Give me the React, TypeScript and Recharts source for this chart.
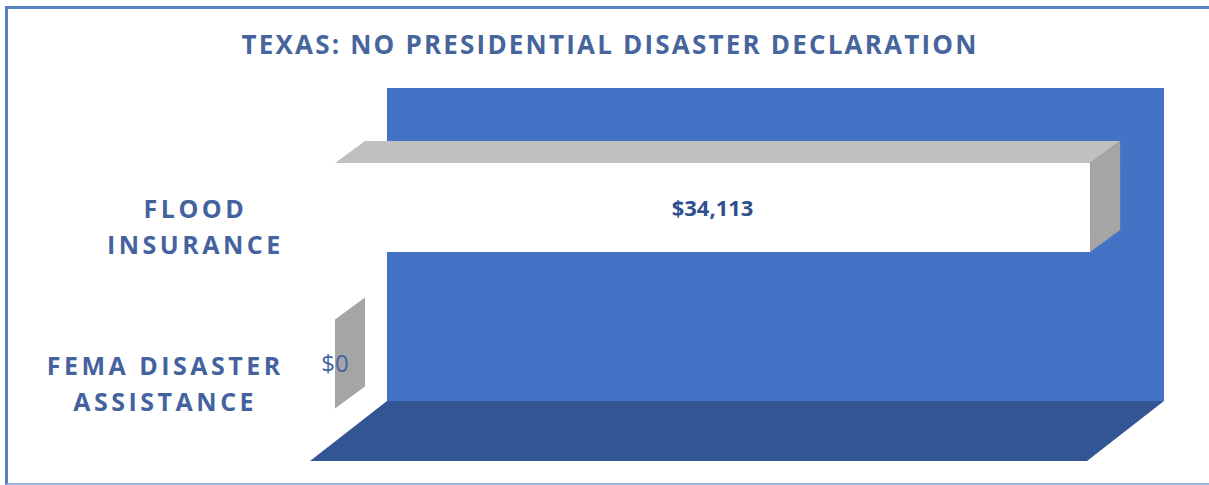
import { Bar, BarChart, LabelList, ReferenceArea, XAxis, YAxis } from 'recharts';

const categories = ['FLOOD INSURANCE', 'FEMA DISASTER ASSISTANCE'];
const tickLines = [
  ['FLOOD', 'INSURANCE'],
  ['FEMA DISASTER', 'ASSISTANCE'],
];
const amounts = [34113, 0];
const AXIS_MAX = 35100;

const chartData = categories.map((name, i) => ({ name, amount: amounts[i] }));

const TEXT_BLUE = '#44639e';
const FONT = '"Open Sans", "DejaVu Sans", sans-serif';

// depth offsets of the fake 3D box, relative to the bars' front face
const BACK = { dx: 52, dy: -41 };
const FRONT = { dx: -25, dy: 19 };
const BAR_DEPTH = { dx: 30, dy: -22 };

function measure(text: string, size: number, spacing: number) {
  const ctx = document.createElement('canvas').getContext('2d');
  if (!ctx) return text.length * size * 0.7;
  ctx.font = `700 ${size}px "Open Sans"`;
  return ctx.measureText(text).width + spacing * text.length;
}

function WallAndFloor(props: any) {
  const { x, y, width, height } = props;
  const bottom = y + height;
  const floor = [
    [x + FRONT.dx, bottom + FRONT.dy],
    [x + width + FRONT.dx, bottom + FRONT.dy],
    [x + width + BACK.dx, bottom + BACK.dy],
    [x + BACK.dx, bottom + BACK.dy],
  ]
    .map((p) => p.join(','))
    .join(' ');
  return (
    <g>
      <rect x={x + BACK.dx} y={y + BACK.dy} width={width} height={height} fill="#4472c4" />
      <polygon points={floor} fill="#335594" />
    </g>
  );
}

function Bar3D(props: any) {
  const { x, y, width, height } = props;
  const { dx, dy } = BAR_DEPTH;
  const top = `${x},${y} ${x + dx},${y + dy} ${x + width + dx},${y + dy} ${x + width},${y}`;
  const side = `${x + width},${y} ${x + width + dx},${y + dy} ${x + width + dx},${y + height + dy} ${x + width},${y + height}`;
  return (
    <g>
      {width > 0 && <rect x={x} y={y} width={width} height={height} fill="#ffffff" />}
      {width > 0 && <polygon points={top} fill="#c0c0c0" />}
      <polygon points={side} fill="#a5a5a5" />
    </g>
  );
}

function ValueLabel(props: any) {
  const { x, y, width, height, value } = props;
  const big = value > 0;
  return (
    <text
      x={x + width / 2}
      y={y + height / 2 + 8}
      textAnchor="middle"
      fill={big ? '#2f4f8f' : TEXT_BLUE}
      fontSize={big ? 22 : 24}
      fontWeight={big ? 700 : 400}
      fontFamily={FONT}
    >
      {'$' + value.toLocaleString('en-US')}
    </text>
  );
}

function CategoryTick(props: any) {
  const { y, index } = props;
  const lines = tickLines[index] || [];
  const size = 25;
  const spacing = 3.5;
  const widest = Math.max(...lines.map((l) => measure(l, size, spacing)));
  const cx = 282 - widest / 2;
  return (
    <text
      textAnchor="middle"
      fill={TEXT_BLUE}
      fontSize={size}
      fontWeight={700}
      fontFamily={FONT}
      letterSpacing={spacing}
    >
      {lines.map((l, i) => (
        <tspan key={l} x={cx + spacing / 2} y={y + 11 + i * 36}>
          {l}
        </tspan>
      ))}
    </text>
  );
}

export default function App() {
  return (
    <div
      style={{
        position: 'absolute',
        left: 0,
        top: 0,
        width: 1209,
        height: 485,
        overflow: 'hidden',
        background: '#ffffff',
      }}
    >
      <div
        style={{
          position: 'absolute',
          left: 5,
          top: 6,
          width: 1204,
          height: 474,
          borderTop: '3px solid #5580c0',
          borderLeft: '3px solid #5580c0',
          borderBottom: '2px solid #9db6e0',
        }}
      />
      <div
        style={{
          position: 'absolute',
          left: 0,
          top: 26,
          width: 1220,
          textAlign: 'center',
          fontFamily: FONT,
          fontWeight: 700,
          fontSize: 26,
          letterSpacing: 2.2,
          color: '#46659c',
        }}
      >
        TEXAS: NO PRESIDENTIAL DISASTER DECLARATION
      </div>
      <BarChart
        width={1209}
        height={485}
        data={chartData}
        layout="vertical"
        margin={{ top: 129, right: 97, bottom: 43, left: 0 }}
        style={{ position: 'absolute', left: 0, top: 0 }}
      >
        <XAxis type="number" domain={[0, AXIS_MAX]} hide />
        <YAxis
          type="category"
          dataKey="name"
          width={335}
          axisLine={false}
          tickLine={false}
          tick={<CategoryTick />}
        />
        <ReferenceArea x1={0} x2={AXIS_MAX} shape={<WallAndFloor />} ifOverflow="visible" />
        <Bar dataKey="amount" barSize={89} shape={<Bar3D />} isAnimationActive={false}>
          <LabelList dataKey="amount" content={<ValueLabel />} />
        </Bar>
      </BarChart>
    </div>
  );
}
